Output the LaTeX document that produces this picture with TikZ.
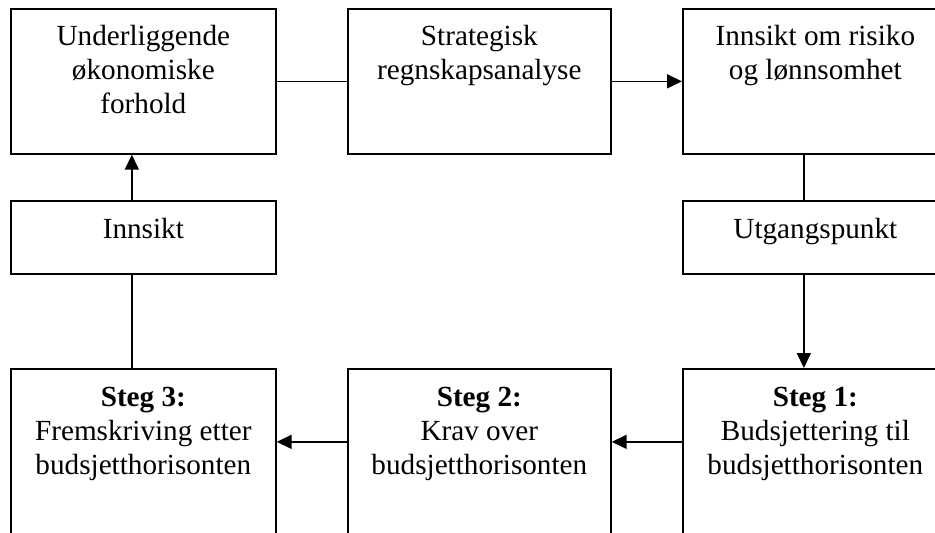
\documentclass[tikz,border=0pt]{standalone}
\usepackage{fontspec}
\setmainfont{Liberation Serif}
\usetikzlibrary{arrows.meta}
\begin{document}
\begin{tikzpicture}[x=1pt,y=1pt,
  box/.style={draw, line width=1.7pt, inner sep=0pt, anchor=north west},
  txt/.style={align=center, inner sep=0pt, anchor=north, font=\fontsize{29.2pt}{34pt}\selectfont},
  conn/.style={line width=1.7pt},
  arr/.style={line width=1.7pt, -{Triangle[length=15pt,width=14pt]}}]
\useasboundingbox (0,0) rectangle (935,-533);
\clip (0,0) rectangle (935,-533);
% boxes
\node[box, minimum width=265pt, minimum height=145pt] (A) at (10,-8) {};
\node[box, minimum width=263pt, minimum height=145pt] (B) at (347,-8) {};
\node[box, minimum width=265pt, minimum height=145pt] (C) at (682,-8) {};
\node[box, minimum width=265pt, minimum height=73pt] (In) at (10,-200) {};
\node[box, minimum width=265pt, minimum height=73pt] (Ut) at (682,-200) {};
\node[box, minimum width=265pt, minimum height=172pt] (S3) at (10,-368) {};
\node[box, minimum width=263pt, minimum height=172pt] (S2) at (347,-368) {};
\node[box, minimum width=265pt, minimum height=172pt] (S1) at (682,-368) {};
% texts
\node[txt] (tA) at ([yshift=-17pt]A.north) {Underliggende\\økonomiske\\forhold};
\node[txt] (tB) at ([yshift=-17pt]B.north) {Strategisk\\regnskapsanalyse};
\node[txt] (tC) at ([yshift=-17pt]C.north) {Innsikt om risiko\\og lønnsomhet};
\node[txt] (tIn) at ([yshift=-18pt]In.north) {Innsikt};
\node[txt] (tUt) at ([yshift=-18pt]Ut.north) {Utgangspunkt};
\node[txt] (tS3) at ([yshift=-19pt]S3.north) {\textbf{Steg 3:}\\Fremskriving etter\\budsjetthorisonten};
\node[txt] (tS2) at ([yshift=-19pt]S2.north) {\textbf{Steg 2:}\\Krav over\\budsjetthorisonten};
\node[txt] (tS1) at ([yshift=-19pt]S1.north) {\textbf{Steg 1:}\\Budsjettering til\\budsjetthorisonten};
% connectors
\draw[conn] (A.east) -- (B.west);
\draw[arr] (B.east) -- (C.west);
\draw[conn] ([xshift=-11.5pt]C.south) -- ([xshift=-11.5pt]Ut.north);
\draw[arr] ([xshift=-11.5pt]Ut.south) -- ([xshift=-11.5pt]S1.north);
\draw[arr] ([yshift=13pt]S1.west) -- ([yshift=13pt]S2.east);
\draw[arr] ([yshift=13pt]S2.west) -- ([yshift=13pt]S3.east);
\draw[conn] ([xshift=-11.5pt]S3.north) -- ([xshift=-11.5pt]In.south);
\draw[arr] ([xshift=-11.5pt]In.north) -- ([xshift=-11.5pt]A.south);
\end{tikzpicture}
\end{document}
